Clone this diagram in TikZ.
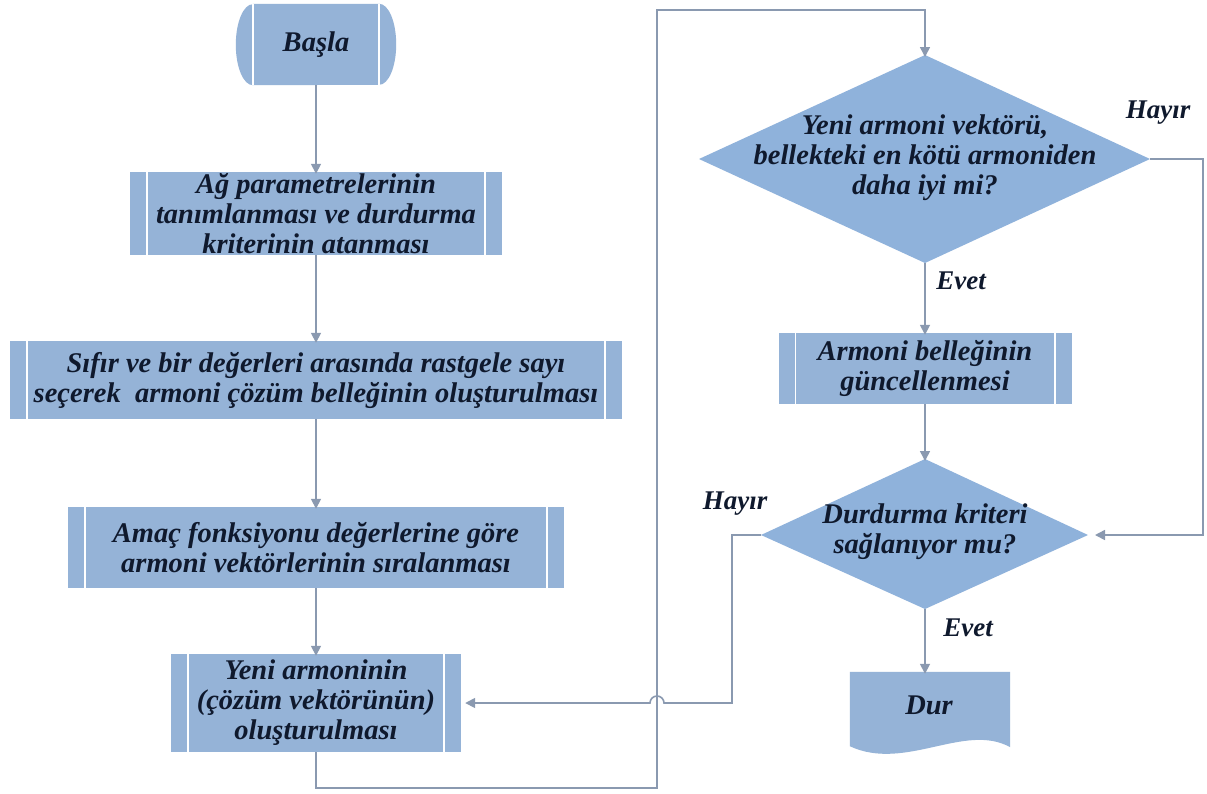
\documentclass[tikz,border=0pt]{standalone}
\usepackage{fontspec}
\setmainfont{Liberation Serif}
\usetikzlibrary{arrows.meta,calc}
\definecolor{boxfill}{RGB}{149,179,215}
\definecolor{dfill}{RGB}{143,178,219}
\definecolor{linec}{RGB}{138,153,176}
\definecolor{txtc}{RGB}{15,25,45}
\begin{document}
\begin{tikzpicture}[x=1pt,y=-1pt,
  txt/.style={font=\bfseries\itshape\fontsize{28.5}{30}\selectfont, text=txtc, align=center, inner sep=0pt},
  procbox/.style={rectangle, fill=boxfill, inner sep=0pt, font=\bfseries\itshape\fontsize{28.5}{30}\selectfont, text=txtc, align=center},
  ghost/.style={rectangle, inner sep=0pt, font=\bfseries\itshape\fontsize{28.5}{30}\selectfont, text=txtc, align=center},
  sepline/.style={draw=white, line width=1.6pt},
  lab/.style={font=\bfseries\itshape\fontsize{27}{29}\selectfont, text=txtc, inner sep=0pt},
  arr/.style={draw=linec, line width=1.6pt, -{Triangle[width=10pt,length=10pt]}},
  conn/.style={draw=linec, line width=1.6pt}
]
\fill[white] (0,0) rectangle (1207,793);
\useasboundingbox (0,0) rectangle (1207,793);

% start terminator
\node[ghost, minimum width=160, minimum height=81] (start) at (316,44.5) {};
\fill[boxfill] ([xshift=17pt]start.north west) -- ([xshift=-17pt]start.north east)
  arc[start angle=-90, end angle=90, x radius=17, y radius=40.5]
  -- ([xshift=17pt]start.south west)
  arc[start angle=90, end angle=270, x radius=17, y radius=40.5] -- cycle;
\draw[sepline] ([xshift=17pt]start.north west) -- ([xshift=17pt]start.south west);
\draw[sepline] ([xshift=-17pt]start.north east) -- ([xshift=-17pt]start.south east);
\node[txt] at (start) {Başla};

% process boxes
\node[procbox, minimum width=372, minimum height=83] (b2) at (316,213.5)
  {Ağ parametrelerinin\\tanımlanması ve durdurma\\kriterinin atanması};
\node[procbox, minimum width=612, minimum height=78] (b3) at (316,380)
  {Sıfır ve bir değerleri arasında rastgele sayı\\seçerek \ armoni çözüm belleğinin oluşturulması};
\node[procbox, minimum width=496, minimum height=81] (b4) at (316,547.5)
  {Amaç fonksiyonu değerlerine göre\\armoni vektörlerinin sıralanması};
\node[procbox, minimum width=290, minimum height=98] (b5) at (316,703)
  {Yeni armoninin\\(çözüm vektörünün)\\oluşturulması};
\node[procbox, minimum width=293, minimum height=71] (b6) at (925,368.5)
  {Armoni belleğinin\\güncellenmesi};
\foreach \n in {b2,b3,b4,b5,b6}{
  \draw[sepline] ([xshift=17pt]\n.north west) -- ([xshift=17pt]\n.south west);
  \draw[sepline] ([xshift=-17pt]\n.north east) -- ([xshift=-17pt]\n.south east);
}

% decision 1
\coordinate (d1n) at (925,55);
\coordinate (d1s) at (925,263);
\coordinate (d1w) at (699,159);
\coordinate (d1e) at (1150,159);
\fill[dfill] (d1n) -- (d1e) -- (d1s) -- (d1w) -- cycle;
\node[txt] (d1) at (925,158) {Yeni armoni vektörü,\\bellekteki en kötü armoniden\\daha iyi mi?};

% decision 2
\coordinate (d2n) at (925,459);
\coordinate (d2s) at (925,609);
\coordinate (d2w) at (761,535);
\coordinate (d2e) at (1088,535);
\fill[dfill] (d2n) -- (d2e) -- (d2s) -- (d2w) -- cycle;
\node[txt] (d2) at (925,532) {Durdurma kriteri\\sağlanıyor mu?};

% stop document shape
\node[ghost, minimum width=160, minimum height=73] (dur) at (930,708.5) {};
\fill[boxfill] (dur.north west) -- (dur.north east) -- ([yshift=-2pt]dur.south east)
  .. controls (965,722) and (905,772) .. ([yshift=-1pt]dur.south west) -- cycle;
\node[txt] at (929,705) {Dur};

% connectors
\coordinate (loopB) at (657,788);
\coordinate (loopT) at (657,10);
\coordinate (rtc) at (1203,159);
\draw[arr] (start.south) -- ([yshift=-2pt]b2.north);
\draw[arr] (b2.south) -- ([yshift=-2pt]b3.north);
\draw[arr] (b3.south) -- ([yshift=-2pt]b4.north);
\draw[arr] (b4.south) -- ([yshift=-2pt]b5.north);
\draw[arr] (b5.south) |- (loopB) -- (loopT) -| ([yshift=-2pt]d1n);
\draw[arr] (d1s) -- ([yshift=-2pt]b6.north);
\draw[arr] (b6.south) -- ([yshift=-2pt]d2n);
\draw[arr] (d1e) -- (rtc) |- ([xshift=7pt]d2e);
\draw[arr] (d2w) -- ++(-29,0) coordinate (hl1) |- ($(loopB |- b5.east)+(7,0)$)
  arc[start angle=0, end angle=-180, radius=7] -- ([xshift=4pt]b5.east);
\draw[arr] (d2s) -- ([yshift=-2pt]d2s |- dur.north);

% labels
\node[lab] (h1) at (1158,113) {Hayır};
\node[lab] (e1) at (961,281) {Evet};
\node[lab] (h2) at (735,504) {Hayır};
\node[lab] (e2) at (968,628) {Evet};
\end{tikzpicture}
\end{document}
